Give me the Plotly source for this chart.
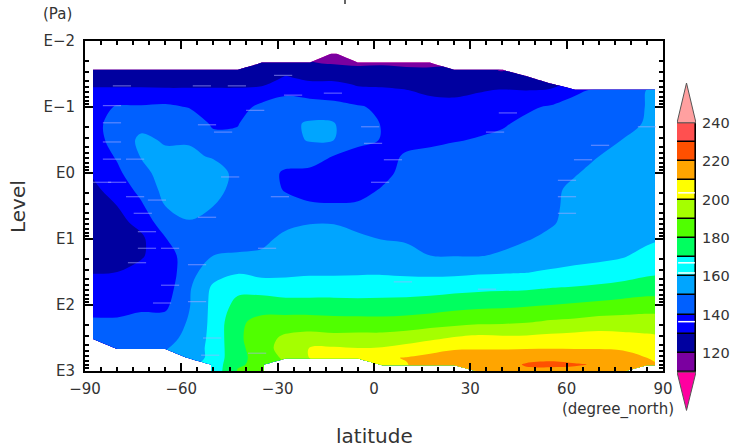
import plotly.graph_objects as go

N = None
latitudes = [-87.5,-80,-72.5,-65,-57.5,-50,-42.5,-35,-27.5,-20,-12.5,-5,2.5,10,17.5,25,32.5,40,47.5,55,62.5,70,77.5,85,87.5]
pressures = [0.0155,0.022,0.028,0.035,0.045,0.056,0.1,0.178,0.316,0.562,1,1.78,3.16,5.62,10,17.8,31.6,56.2,100,178,316,450,632,800,1000]

# one row per latitude, one value per pressure
temperature = [
 [N,N,121,126,129,131,135,137,136,134,131,128,125,124,124,126,129.5,134,137,141,146,N,N,N,N],
 [N,N,122,126,129,131,141,144,144,141,138,134,130,127,125.5,126.5,130,134,137,141,146,148,N,N,N],
 [N,N,123,126,128.5,131.5,141,147,152,150.5,147,143,138.5,133,128,129,133,136,138.5,142,146,148,N,N,N],
 [N,N,124,126.5,128.5,131,142,147,149,152,154,153,150,146,139.5,135.5,134,135,138,143,147.5,149.5,N,N,N],
 [N,N,124.5,126.5,128.5,131,139.5,146,149,152,156,155,152.5,149.5,146,145,146.5,149,149.5,151,152,153,153,N,N],
 [N,N,124.5,126.5,128.5,131,134,138.5,143,149,155,153.5,150,148,148,150,156,162,163,163,163.5,164,164,164,164],
 [N,N,122,126,128.5,131,136,139.5,142,146,147,146.5,146,146.5,148,150.5,159,167.5,173,178,178,177,177,179,180.5],
 [N,121,123,126,128.5,133,142.5,146,146.5,147,146,146,146.5,147.5,148.5,151,156.5,166.5,175,183,186,186,184,182,181],
 [N,122,127,130.5,134,138,144,148,148,146.5,138,139,144.5,148.5,151.5,154,157.5,165,174,184,192,194,192,N,N],
 [N,120.5,124,128,131.5,135,145,151,150.5,146,137,136,141.5,149.5,154,156,158.5,165,174,184,194,200.3,200.3,N,N],
 [115,119.5,125,128.5,131,135,143,150.5,150,139.5,135,135.5,141,149.5,154,156.5,158.5,165,174,183,193,201,202,N,N],
 [N,118,124,127.5,129.5,131,141,144.5,143,136,133,135,142,147,152,155,158.8,165,173.5,183,193.5,200,205,N,N],
 [N,119,123,126.5,129,131,138,139.5,139.5,137,136,141,146.5,149,149.8,153.5,158.8,165.6,173.5,182.8,193.5,200.7,208.5,209,N],
 [N,117,123,126,128.5,130.2,134,136,137.5,141,144,146,148,149,149.5,151.5,158,165.7,173.9,183.5,195,203.3,210.5,209.5,N],
 [N,117,122.5,125.5,127.5,129,132,135,138,142.5,145,147,148,148.5,148.5,150,157.5,166,175,184.7,198,206,213,215,N],
 [N,N,122,125,127,128.5,132,136,139.5,143,145.5,147,148,148,147.5,149.6,157.5,167,176.7,186,200.8,209,214,215,N],
 [N,N,122,124.5,126.5,129.5,133,138,140.5,144,146,147.5,148,147.5,147,149.5,158.5,168,177.6,187.4,202.7,209.3,214,216,217],
 [N,N,119.5,124,127,130.5,136,139,142,145,146.5,147.5,148,147.5,147.5,151,159,168.5,178,188,202,209.3,214,216,217],
 [N,N,N,124,127,130,138.5,142,144,146,147,148,148.5,148.5,149.7,152,159.5,169,179,189,202,209.3,217,221,218],
 [N,N,N,N,127,131,141,143.5,145,147,148,148.5,149,149.5,151,153,161.5,170.3,180,191,203,209.4,218,222,217],
 [N,N,N,N,N,139,142,144,146,148,149.5,151.5,151.5,151.5,153.5,155.7,163,171,181.2,192,204,209.4,216,221,217],
 [N,N,N,N,N,141,142.5,145,147,150,152,153,153,153,155,157,164.3,172,182.5,193.7,204.5,209.5,215,219,216],
 [N,N,N,N,N,143,145,146.5,150.2,152,153,154,154.5,155,155,159,165.6,173.5,184,194,203.5,209,213,216,214],
 [N,N,N,N,N,150.5,150.5,151,152.5,154,155,155.5,156,156.5,158,163,168,175.5,185,194.5,202,206,210,213,N],
 [N,N,N,N,N,152,152,152.5,153.5,155,156,156.5,157,157.5,159,164,168.5,175.5,185,194.5,201.5,205,208.5,211,N],
]

# short pale dashes visible on the field
dash_lat = [-78.5,-53.6,-42.7,-28.3,-25.2,-81.6,-81.6,-52,-47,-37,-81.6,-81.6,-74.4,-84.7,-80,-74.4,-72,-67.6,-52,-29.3,-44.8,-12.8,-70.7,-70.7,-63.5,-73.8,-63.5,-55.1,-55.1,-66,-50.4,-51,-33.3,-36.4,5.9,1.9,-1.2,-0.3,41.7,37.7,60.1,60.1,60.1,70.4,65.1,85,9,35.2]
dash_exp = [-1.32,-1.32,-1.32,-1.48,-1.18,-1.02,-0.76,-0.73,-0.62,-0.95,-0.47,-0.21,-0.21,0.14,0.14,0.36,0.61,0.41,0.67,0.36,0.06,-1.21,0.89,1.14,1.14,1.36,1.70,1.39,1.95,1.97,2.5,2.76,1.14,2.73,-0.2,0.14,-0.7,-0.45,-0.91,-0.62,0.11,0.36,0.61,-0.42,-0.2,-0.7,1.65,1.76]

band_lows = [110,120,130,140,150,160,170,180,190,200,210,220,230]
band_colors = ["#7b00a0","#0000a0","#0000ff","#0060ff","#00a5ff","#00ffff","#00ff5f","#50ff00","#a5ff00","#ffff00","#ffa500","#ff5000","#ff5050"]
under_color = "#ff00a0"
over_color = "#ffa0a0"
bar_ticks = [120,140,160,180,200,220,240]
bar_white_marks = [136.3,161.7,167,203.5]
lat_ticks = [-90,-60,-30,0,30,60,90]
lat_minor = list(range(-90,95,5))
p_ticks = [0.01,0.1,1,10,100,1000]
p_labels = ["E\u22122","E\u22121","E0","E1","E2","E3"]
p_minor = [m*10**e for e in (-2,-1,0,1,2) for m in range(2,10)]

W, H = 732, 447
def fx(px):
    return px/W
def fy(py):
    return 1-py/H

z = [list(col) for col in zip(*temperature)]
all_colors = [under_color] + band_colors + [over_color]
zmin, zmax = 100, 250
cs = []
for i, c in enumerate(all_colors):
    cs.append([i/len(all_colors), c])
    cs.append([(i+1)/len(all_colors), c])

fig = go.Figure()
fig.add_trace(go.Contour(
    x=latitudes, y=pressures, z=z, zmin=zmin, zmax=zmax, colorscale=cs, showscale=False,
    contours=dict(start=110, end=240, size=10, coloring="fill", showlines=False),
    line=dict(width=0), connectgaps=False, hoverinfo="skip"))
fig.add_trace(go.Scatter(x=dash_lat, y=[10**e for e in dash_exp], mode="markers",
    marker=dict(symbol="line-ew", size=13, line=dict(color="rgba(170,170,255,0.65)", width=1)),
    showlegend=False, hoverinfo="skip"))

fig.add_trace(go.Bar(
    x=[0.5]*len(band_lows), y=[10]*len(band_lows), base=band_lows, width=1,
    marker=dict(color=band_colors, line=dict(color="black", width=1.6)),
    xaxis="x2", yaxis="y2", showlegend=False, hoverinfo="skip"))
fig.add_trace(go.Scatter(x=[0,0.5,1,0], y=[240,260.8,240,240], fill="toself", fillcolor=over_color,
    mode="lines", line=dict(color="#555", width=1), xaxis="x2", yaxis="y2", showlegend=False, hoverinfo="skip"))
fig.add_trace(go.Scatter(x=[0,0.5,1,0], y=[110,90,110,110], fill="toself", fillcolor=under_color,
    mode="lines", line=dict(color="#555", width=1), xaxis="x2", yaxis="y2", showlegend=False, hoverinfo="skip"))
for v in bar_white_marks:
    fig.add_trace(go.Scatter(x=[0.06,0.94], y=[v,v], mode="lines", line=dict(color="white", width=1.5),
        xaxis="x2", yaxis="y2", showlegend=False, hoverinfo="skip"))

tick_font = dict(family="DejaVu Sans", size=15, color="#333")
label_font = dict(family="DejaVu Sans", size=20, color="#333")
unit_font = dict(family="DejaVu Sans", size=15, color="#333")
def note(text, px, py, font, angle=0):
    return dict(text=text, x=fx(px), y=fy(py), xref="paper", yref="paper", xanchor="center", yanchor="middle",
                textangle=angle, showarrow=False, font=font)
fig.update_layout(
    width=W, height=H, margin=dict(l=0,r=0,t=0,b=0,pad=0,autoexpand=False), paper_bgcolor="white", plot_bgcolor="white",
    showlegend=False, bargap=0,
    xaxis=dict(domain=[fx(85),fx(663)], range=[-90,90], tickmode="array", tickvals=lat_ticks, automargin=False,
        ticks="inside", ticklen=8, tickwidth=1.5, tickcolor="black", showline=True, linecolor="black", linewidth=2,
        mirror="allticks", showgrid=False, zeroline=False, tickfont=tick_font, ticklabelstandoff=3,
        minor=dict(tickmode="array", tickvals=lat_minor, ticks="inside", ticklen=4, tickwidth=1.5, tickcolor="black", showgrid=False)),
    yaxis=dict(domain=[fy(371),fy(41)], type="log", range=[3,-2], tickmode="array", tickvals=p_ticks, ticktext=p_labels, automargin=False,
        ticks="inside", ticklen=8, tickwidth=1.5, tickcolor="black", showline=True, linecolor="black", linewidth=2,
        mirror="allticks", showgrid=False, zeroline=False, tickfont=tick_font, ticklabelstandoff=5,
        minor=dict(tickmode="array", tickvals=p_minor, ticks="inside", ticklen=4, tickwidth=1.5, tickcolor="black", showgrid=False)),
    xaxis2=dict(domain=[fx(677),fx(696)], range=[0,1], visible=False, anchor="y2"),
    yaxis2=dict(domain=[fy(411),fy(83)], range=[89.7,260.8], side="right", anchor="x2", automargin=False,
        tickmode="array", tickvals=bar_ticks, ticks="", showline=False, showgrid=False, zeroline=False,
        tickfont=dict(family="DejaVu Sans", size=14.5, color="#333"), ticklabelstandoff=5),
    annotations=[
        note("(Pa)", 57, 14, unit_font),
        note("(degree_north)", 618, 409, unit_font),
        note("latitude", 374, 436, label_font),
        note("Level", 18, 207, label_font, -90),
    ],
    shapes=[dict(type="line", xref="paper", yref="paper", x0=fx(345), x1=fx(345), y0=fy(0), y1=fy(4), line=dict(color="#333", width=1.5))],
)
fig.write_html("out.html", config=dict(displayModeBar=False), post_script="document.body.style.margin='0';")
